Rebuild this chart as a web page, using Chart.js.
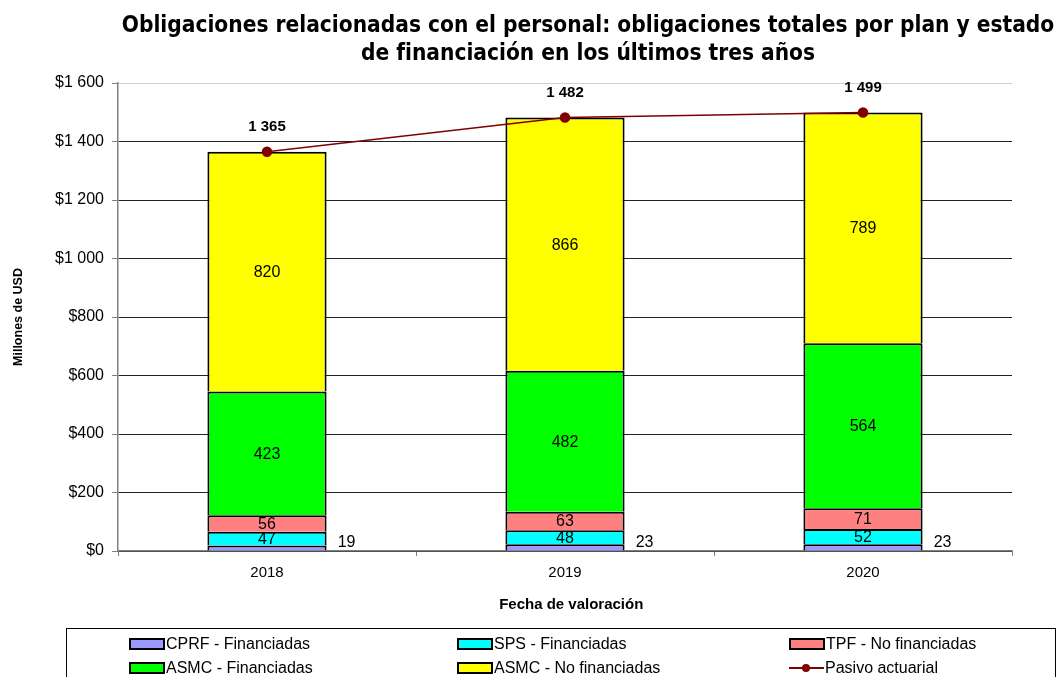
<!DOCTYPE html>
<html lang="es">
<head>
<meta charset="UTF-8">
<title>Obligaciones relacionadas con el personal</title>
<style>
  body { margin: 0; background: #fff; font-family: "Liberation Sans", Arial, sans-serif; }
  #wrap { position: relative; width: 1062px; height: 677px; overflow: hidden; }
  #titulo {
    position: absolute; left: 88px; top: 10px; width: 1000px;
    text-align: center; font-family: "DejaVu Sans Condensed", "DejaVu Sans", sans-serif;
    font-weight: bold; font-size: 22.5px; line-height: 28px; color: #000;
  }
  #leyenda {
    position: absolute; left: 66px; top: 628px; width: 990px; height: 60px;
    border: 1px solid #000; box-sizing: border-box; font-size: 16px;
  }
  .item { position: absolute; display: flex; align-items: center; height: 18px; white-space: nowrap; }
  .sw { width: 32px; height: 8px; border: 2px solid #000; margin-right: 1px; }
  .ln { width: 35px; height: 10px; position: relative; margin-right: 1px; }
  .ln::before { content: ""; position: absolute; left: 0; right: 0; top: 4px; height: 2px; background: #800000; }
  .ln::after { content: ""; position: absolute; left: 13px; top: 1px; width: 8px; height: 8px; border-radius: 50%; background: #800000; }
</style>
</head>
<body>
<div id="wrap">
  <canvas id="myChart" width="1062" height="677"></canvas>
  <div id="titulo">Obligaciones relacionadas con el personal: obligaciones totales por plan y estado<br>de financiación en los últimos tres años</div>
  <div id="leyenda"></div>
</div>

<script src="https://cdn.jsdelivr.net/npm/chart.js"></script>
<script>
  // datos
  const anios = ['2018', '2019', '2020']
  const cprf = [19, 23, 23]
  const sps = [47, 48, 52]
  const tpf = [56, 63, 71]
  const asmcFin = [423, 482, 564]
  const asmcNoFin = [820, 866, 789]
  const pasivo = [1365, 1482, 1499]
  const yTicks = [0, 200, 400, 600, 800, 1000, 1200, 1400, 1600]

  const series = [
    { label: 'CPRF - Financiadas', data: cprf, color: '#9999FF' },
    { label: 'SPS - Financiadas', data: sps, color: '#00FFFF' },
    { label: 'TPF - No financiadas', data: tpf, color: '#FF8080' },
    { label: 'ASMC - Financiadas', data: asmcFin, color: '#00FF00' },
    { label: 'ASMC - No financiadas', data: asmcNoFin, color: '#FFFF00' }
  ]

  const fmt = v => String(v).replace(/\B(?=(\d{3})+(?!\d))/g, ' ')

  const datasets = series.map(s => ({
    type: 'bar',
    label: s.label,
    data: s.data,
    backgroundColor: s.color,
    borderColor: '#000',
    borderWidth: 2,
    stack: 'planes',
    order: 1,
    barPercentage: 1,
    categoryPercentage: 0.4
  }))
  datasets.push({
    type: 'line',
    label: 'Pasivo actuarial',
    data: pasivo,
    borderColor: '#800000',
    backgroundColor: '#800000',
    borderWidth: 1.5,
    pointRadius: 4.5,
    pointHoverRadius: 4.5,
    stack: 'linea',
    order: 0
  })

  // etiquetas de valores
  const etiquetas = {
    id: 'etiquetas',
    afterDatasetsDraw(chart) {
      const ctx = chart.ctx
      ctx.save()
      ctx.fillStyle = '#000'
      ctx.textAlign = 'center'
      ctx.textBaseline = 'middle'
      chart.data.datasets.forEach((ds, i) => {
        const meta = chart.getDatasetMeta(i)
        meta.data.forEach((el, j) => {
          const v = ds.data[j]
          if (ds.type === 'line') {
            ctx.font = 'bold 15px "Liberation Sans", Arial, sans-serif'
            ctx.fillText(fmt(v), el.x, el.y - 25)
          } else if (i === 0) {
            ctx.font = '16px "Liberation Sans", Arial, sans-serif'
            ctx.fillText(fmt(v), el.x + el.width / 2 + 20, el.base - 8)
          } else {
            ctx.font = '16px "Liberation Sans", Arial, sans-serif'
            ctx.fillText(fmt(v), el.x, (el.y + el.base) / 2 + 1)
          }
        })
      })
      ctx.restore()
    }
  }

  const ctx = document.getElementById('myChart')
  const myChart = new Chart(ctx, {
    data: { labels: anios, datasets: datasets },
    plugins: [etiquetas],
    options: {
      responsive: false,
      animation: false,
      events: [],
      layout: { padding: { top: 83, right: 50, bottom: 57, left: 0 } },
      plugins: {
        legend: { display: false },
        title: { display: false },
        tooltip: { enabled: false }
      },
      scales: {
        x: {
          stacked: true,
          offset: true,
          afterFit: s => { s.height = 69 },
          grid: { offset: true, drawOnChartArea: false, color: '#808080', tickLength: 5 },
          border: { color: '#808080', width: 1.5 },
          ticks: { color: '#000', font: { size: 15, family: '"Liberation Sans", Arial, sans-serif' }, padding: 8 },
          title: {
            display: true, text: '   Fecha de valoración', color: '#000',
            font: { size: 15, weight: 'bold', family: '"Liberation Sans", Arial, sans-serif' },
            padding: { top: 0, bottom: 6 }
          }
        },
        y: {
          stacked: true,
          min: 0, max: 1600,
          afterFit: s => { s.width = 118 },
          afterBuildTicks: s => { s.ticks = yTicks.map(v => ({ value: v })) },
          grid: {
            color: c => c.tick && c.tick.value === 1600 ? '#d0d0d0' : '#222',
            lineWidth: 1, tickLength: 6, tickColor: '#808080'
          },
          border: { color: '#808080', width: 1.5 },
          ticks: {
            color: '#000', padding: 8,
            font: { size: 16, family: '"Liberation Sans", Arial, sans-serif' },
            callback: v => '$' + fmt(v)
          },
          title: {
            display: true, text: 'Millones de USD', color: '#000',
            font: { size: 12.5, weight: 'bold', family: '"Liberation Sans", Arial, sans-serif' },
            padding: { top: 11, bottom: 0 }
          }
        }
      }
    }
  })

  // leyenda en tres columnas
  const leyenda = document.getElementById('leyenda')
  const cols = [62, 390, 722]
  const filas = [6, 30]
  const items = series.map(s => ({ label: s.label, color: s.color }))
  items.push({ label: 'Pasivo actuarial', line: true })
  items.forEach((it, k) => {
    const d = document.createElement('div')
    d.className = 'item'
    d.style.left = cols[k % 3] + 'px'
    d.style.top = filas[Math.floor(k / 3)] + 'px'
    const m = document.createElement('span')
    if (it.line) { m.className = 'ln' } else { m.className = 'sw'; m.style.background = it.color }
    d.appendChild(m)
    d.appendChild(document.createTextNode(it.label))
    leyenda.appendChild(d)
  })
</script>
</body>
</html>
